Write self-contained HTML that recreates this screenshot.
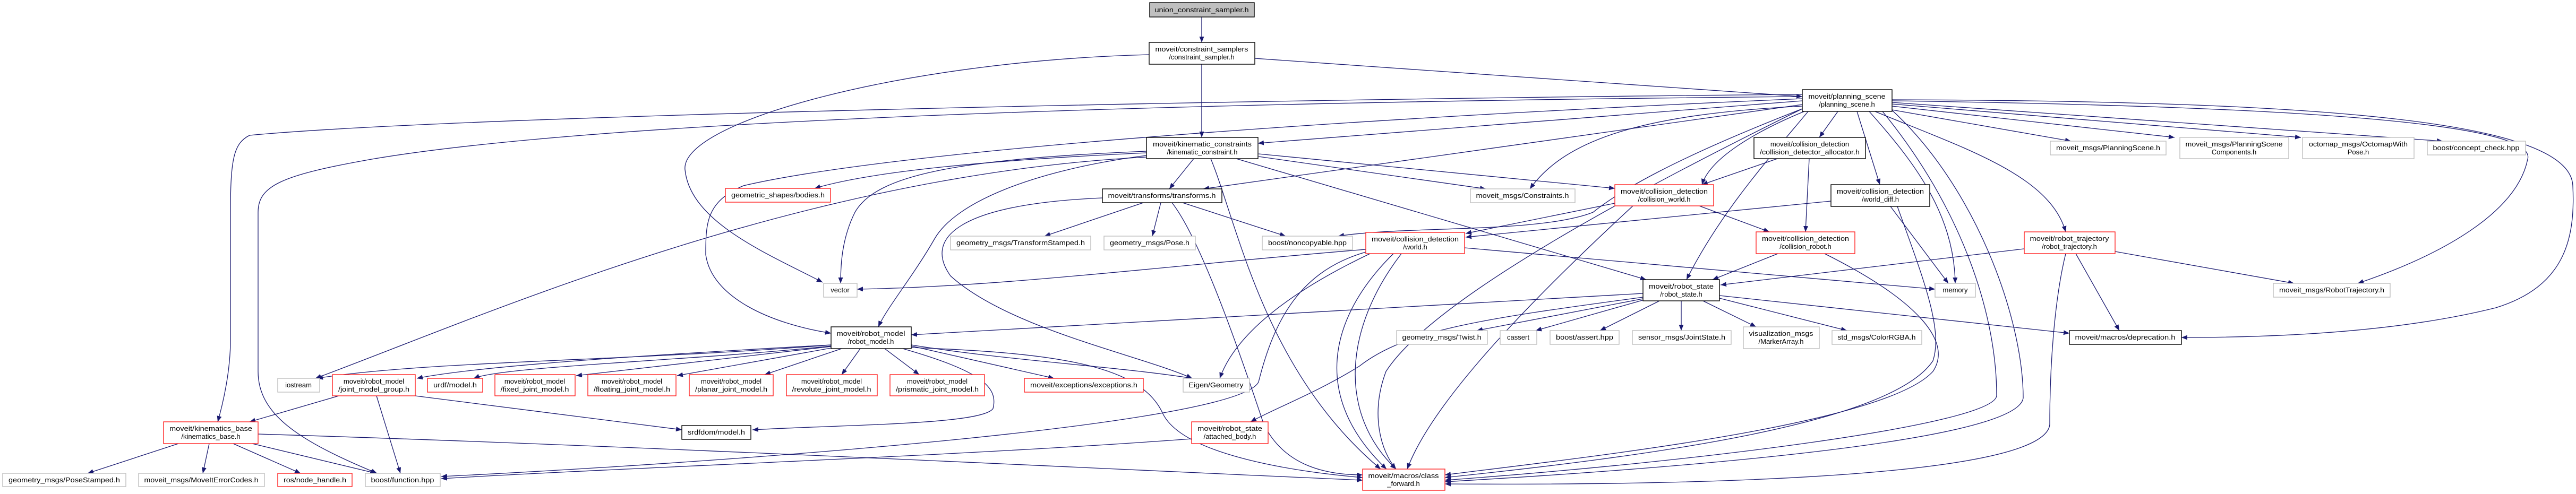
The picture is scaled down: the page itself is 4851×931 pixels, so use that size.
<!DOCTYPE html>
<html><head><meta charset="utf-8"><style>
html,body{margin:0;padding:0;background:#fff;}
svg{display:block;}
text{font-family:"Liberation Sans",sans-serif;font-size:13px;fill:#000;text-anchor:middle;}
.g{fill:#fff;stroke:#bfbfbf;stroke-width:1.4}
.r{fill:#fff;stroke:#f22;stroke-width:1.4}
.b{fill:#fff;stroke:#000;stroke-width:1.4}
.e path{fill:none;stroke:#191970;stroke-width:1.3;marker-end:url(#a)}
</style></head><body>
<svg width="4851" height="931" viewBox="0 0 4851 931" xmlns="http://www.w3.org/2000/svg">
<defs><marker id="a" markerUnits="userSpaceOnUse" markerWidth="12" markerHeight="9" refX="11" refY="4.5" orient="auto"><path d="M0,0 L11,4.5 L0,9 z" fill="#191970"/></marker></defs>
<g class="e">
<path d="M2263 32 L2263 80"/>
<path d="M2263 121 L2263 259"/>
<path d="M2363 110 L3394 182"/>
<path d="M2164 103 C1700 115 1280 230 1290 320 C1300 420 1450 480 1549 532"/>
<path d="M2159 285 C1800 300 1650 330 1610 400 C1585 450 1583 500 1583 534"/>
<path d="M2248 299 L2202 356"/>
<path d="M2370 295 L2798 356"/>
<path d="M2370 290 L3041 355"/>
<path d="M2328 299 L3100 527"/>
<path d="M2280 299 C2330 420 2380 700 2600 884"/>
<path d="M2076 373 C1800 385 1740 450 1790 520 C1900 620 2150 670 2245 713"/>
<path d="M2159 293 C1950 320 1800 380 1760 450 C1720 520 1670 580 1654 616"/>
<path d="M2159 296 C1500 330 900 600 594 713"/>
<path d="M2159 288 C1900 300 1650 320 1534 355"/>
<path d="M3394 190 L2369 270"/>
<path d="M3394 197 L2266 356"/>
<path d="M3394 200 C3100 215 2950 260 2881 356"/>
<path d="M3400 209 C3300 250 3220 300 3205 348"/>
<path d="M3461 210 L3426 259"/>
<path d="M3497 210 L3540 348"/>
<path d="M3405 210 C3330 300 3240 400 3176 527"/>
<path d="M3531 210 C3700 280 3860 330 3890 437"/>
<path d="M3563 207 L3900 266"/>
<path d="M3563 200 L4095 259"/>
<path d="M3563 196 L4333 259"/>
<path d="M3563 193 L4600 266"/>
<path d="M3563 190 C4300 200 4780 230 4760 300 C4740 400 4600 480 4440 534"/>
<path d="M3563 188 C4400 190 4840 230 4845 350 C4850 450 4830 540 4700 580 C4500 630 4250 636 4108 636"/>
<path d="M3520 210 C3600 300 3680 400 3682 534"/>
<path d="M3560 389 L3669 534"/>
<path d="M3436 478 C3600 560 3680 640 3640 700 C3550 800 3000 860 2721 895"/>
<path d="M3573 389 C3620 520 3660 620 3640 680 C3560 800 3100 860 2721 900"/>
<path d="M3545 210 C3700 400 3760 600 3760 745 C3760 800 3200 870 2721 905"/>
<path d="M3560 205 C3720 350 3810 600 3810 750 C3800 830 3200 880 2721 908"/>
<path d="M3890 478 C3870 560 3860 680 3860 800 C3850 900 3200 915 2721 912"/>
<path d="M3394 178 C2500 185 900 215 470 255 C440 270 434 300 434 400 L434 640 C434 700 420 760 410 795"/>
<path d="M3394 182 C2500 190 1200 215 700 300 C530 330 486 350 486 400 L486 700 C486 780 560 830 710 892"/>
<path d="M3394 186 C2600 220 1700 280 1400 350 C1330 380 1329 420 1329 480 C1340 560 1450 610 1565 628"/>
<path d="M1565 650 C1200 680 800 680 597 713"/>
<path d="M1565 650 C1200 670 900 690 785 713"/>
<path d="M1565 652 C1300 680 950 690 892 713"/>
<path d="M1565 653 L1085 708"/>
<path d="M1570 655 L1275 708"/>
<path d="M1585 657 L1440 706"/>
<path d="M1620 657 L1585 706"/>
<path d="M1666 657 L1731 706"/>
<path d="M1716 652 L1985 713"/>
<path d="M1716 650 C1900 680 2100 690 2245 713"/>
<path d="M1716 655 C2000 665 2150 690 2190 780 C2230 860 2450 890 2566 900"/>
<path d="M1700 657 C1850 700 1880 730 1870 770 C1850 800 1600 800 1417 810"/>
<path d="M782 746 L1284 810"/>
<path d="M638 746 L470 795"/>
<path d="M709 746 L754 892"/>
<path d="M336 836 L165 892"/>
<path d="M394 836 L382 892"/>
<path d="M439 836 L566 892"/>
<path d="M475 836 L708 892"/>
<path d="M486 818 C1200 840 2000 880 2566 905"/>
<path d="M2244 827 C1800 860 1200 880 831 902"/>
<path d="M2572 475 C2450 510 2400 600 2370 720 C2330 800 1400 870 831 898"/>
<path d="M2572 470 C2200 500 1900 540 1614 545"/>
<path d="M2580 478 C2450 540 2330 620 2297 713"/>
<path d="M2624 478 C2500 600 2470 750 2611 884"/>
<path d="M2639 478 C2530 620 2520 780 2629 884"/>
<path d="M2758 467 L3644 545"/>
<path d="M3041 383 L2760 440"/>
<path d="M3200 388 L3332 437"/>
<path d="M3075 388 C2900 550 2700 750 2650 884"/>
<path d="M3394 205 C3150 300 3050 360 3000 400 C2900 440 2650 425 2520 445"/>
<path d="M3347 299 L3205 348"/>
<path d="M3407 299 L3400 437"/>
<path d="M3448 379 L2760 447"/>
<path d="M3348 478 L3225 527"/>
<path d="M3811 469 L3240 537"/>
<path d="M3909 478 L3991 623"/>
<path d="M3983 474 L4320 534"/>
<path d="M3094 553 L1716 631"/>
<path d="M3238 557 L3897 628"/>
<path d="M3094 563 L2781 623"/>
<path d="M3096 565 L2892 623"/>
<path d="M3125 567 L3013 623"/>
<path d="M3166 567 L3166 623"/>
<path d="M3207 567 L3307 616"/>
<path d="M3238 562 L3478 623"/>
<path d="M3094 560 C2800 600 2650 620 2560 690 C2480 740 2400 770 2355 795"/>
<path d="M3394 205 C3100 350 2700 560 2610 700 C2580 780 2600 850 2629 884"/>
<path d="M2153 382 L1967 445"/>
<path d="M2186 382 L2170 445"/>
<path d="M2227 382 L2421 445"/>
<path d="M2207 382 C2260 450 2330 650 2380 800 C2420 880 2500 895 2566 895"/>
</g>

<rect x="2165" y="5" width="197" height="27" fill="#bfbfbf" stroke="#000" stroke-width="1.4"/><text x="2263" y="23" textLength="177" lengthAdjust="spacingAndGlyphs">union_constraint_sampler.h</text>
<rect class="b" x="2164" y="80" width="199" height="41"/><text x="2263" y="97" textLength="175" lengthAdjust="spacingAndGlyphs">moveit/constraint_samplers</text><text x="2263" y="112">/constraint_sampler.h</text>
<rect class="b" x="2159" y="259" width="210" height="40"/><text x="2264" y="276" textLength="186" lengthAdjust="spacingAndGlyphs">moveit/kinematic_constraints</text><text x="2264" y="291">/kinematic_constraint.h</text>
<rect class="b" x="3394" y="169" width="169" height="41"/><text x="3478" y="186" textLength="145" lengthAdjust="spacingAndGlyphs">moveit/planning_scene</text><text x="3478" y="201">/planning_scene.h</text>
<rect class="b" x="2076" y="356" width="225" height="26"/><text x="2188" y="373" textLength="203" lengthAdjust="spacingAndGlyphs">moveit/transforms/transforms.h</text>
<rect class="g" x="2769" y="356" width="197" height="26"/><text x="2867" y="373" textLength="175" lengthAdjust="spacingAndGlyphs">moveit_msgs/Constraints.h</text>
<rect class="r" x="3041" y="348" width="186" height="40"/><text x="3134" y="365" textLength="164" lengthAdjust="spacingAndGlyphs">moveit/collision_detection</text><text x="3134" y="380">/collision_world.h</text>
<rect class="b" x="3303" y="259" width="210" height="40"/><text x="3408" y="276">moveit/collision_detection</text><text x="3408" y="291" textLength="188" lengthAdjust="spacingAndGlyphs">/collision_detector_allocator.h</text>
<rect class="b" x="3448" y="348" width="186" height="41"/><text x="3541" y="365" textLength="164" lengthAdjust="spacingAndGlyphs">moveit/collision_detection</text><text x="3541" y="380">/world_diff.h</text>
<rect class="r" x="1366" y="355" width="198" height="26"/><text x="1465" y="372" textLength="176" lengthAdjust="spacingAndGlyphs">geometric_shapes/bodies.h</text>
<rect class="g" x="1790" y="445" width="264" height="26"/><text x="1922" y="462" textLength="242" lengthAdjust="spacingAndGlyphs">geometry_msgs/TransformStamped.h</text>
<rect class="g" x="2079" y="445" width="172" height="26"/><text x="2165" y="462" textLength="150" lengthAdjust="spacingAndGlyphs">geometry_msgs/Pose.h</text>
<rect class="g" x="2377" y="445" width="170" height="26"/><text x="2462" y="462" textLength="148" lengthAdjust="spacingAndGlyphs">boost/noncopyable.hpp</text>
<rect class="r" x="2572" y="438" width="186" height="40"/><text x="2665" y="455" textLength="164" lengthAdjust="spacingAndGlyphs">moveit/collision_detection</text><text x="2665" y="470">/world.h</text>
<rect class="r" x="3307" y="437" width="186" height="41"/><text x="3400" y="454" textLength="164" lengthAdjust="spacingAndGlyphs">moveit/collision_detection</text><text x="3400" y="469">/collision_robot.h</text>
<rect class="r" x="3812" y="437" width="171" height="41"/><text x="3897" y="454" textLength="149" lengthAdjust="spacingAndGlyphs">moveit/robot_trajectory</text><text x="3897" y="469">/robot_trajectory.h</text>
<rect class="g" x="3861" y="266" width="218" height="26"/><text x="3970" y="283" textLength="196" lengthAdjust="spacingAndGlyphs">moveit_msgs/PlanningScene.h</text>
<rect class="g" x="4105" y="259" width="205" height="40"/><text x="4207" y="276" textLength="183" lengthAdjust="spacingAndGlyphs">moveit_msgs/PlanningScene</text><text x="4207" y="291">Components.h</text>
<rect class="g" x="4336" y="259" width="210" height="40"/><text x="4441" y="276" textLength="186" lengthAdjust="spacingAndGlyphs">octomap_msgs/OctomapWith</text><text x="4441" y="291">Pose.h</text>
<rect class="g" x="4571" y="266" width="185" height="26"/><text x="4663" y="283" textLength="163" lengthAdjust="spacingAndGlyphs">boost/concept_check.hpp</text>
<rect class="g" x="1551" y="534" width="63" height="26"/><text x="1582" y="551">vector</text>
<rect class="b" x="1565" y="616" width="151" height="41"/><text x="1640" y="633" textLength="129" lengthAdjust="spacingAndGlyphs">moveit/robot_model</text><text x="1640" y="648">/robot_model.h</text>
<rect class="b" x="3094" y="527" width="144" height="40"/><text x="3166" y="544" textLength="122" lengthAdjust="spacingAndGlyphs">moveit/robot_state</text><text x="3166" y="559">/robot_state.h</text>
<rect class="g" x="3644" y="534" width="76" height="26"/><text x="3682" y="551">memory</text>
<rect class="g" x="4281" y="534" width="220" height="26"/><text x="4391" y="551" textLength="198" lengthAdjust="spacingAndGlyphs">moveit_msgs/RobotTrajectory.h</text>
<rect class="g" x="523" y="713" width="79" height="26"/><text x="562" y="730">iostream</text>
<rect class="r" x="626" y="706" width="156" height="40"/><text x="704" y="723">moveit/robot_model</text><text x="704" y="738" textLength="134" lengthAdjust="spacingAndGlyphs">/joint_model_group.h</text>
<rect class="r" x="805" y="713" width="104" height="26"/><text x="857" y="730" textLength="82" lengthAdjust="spacingAndGlyphs">urdf/model.h</text>
<rect class="r" x="932" y="706" width="151" height="40"/><text x="1007" y="723">moveit/robot_model</text><text x="1007" y="738" textLength="129" lengthAdjust="spacingAndGlyphs">/fixed_joint_model.h</text>
<rect class="r" x="1107" y="706" width="166" height="40"/><text x="1190" y="723">moveit/robot_model</text><text x="1190" y="738" textLength="144" lengthAdjust="spacingAndGlyphs">/floating_joint_model.h</text>
<rect class="r" x="1298" y="706" width="158" height="40"/><text x="1377" y="723">moveit/robot_model</text><text x="1377" y="738" textLength="136" lengthAdjust="spacingAndGlyphs">/planar_joint_model.h</text>
<rect class="r" x="1481" y="706" width="171" height="40"/><text x="1566" y="723">moveit/robot_model</text><text x="1566" y="738" textLength="149" lengthAdjust="spacingAndGlyphs">/revolute_joint_model.h</text>
<rect class="r" x="1676" y="706" width="178" height="40"/><text x="1765" y="723">moveit/robot_model</text><text x="1765" y="738" textLength="156" lengthAdjust="spacingAndGlyphs">/prismatic_joint_model.h</text>
<rect class="r" x="1929" y="713" width="224" height="26"/><text x="2041" y="730" textLength="202" lengthAdjust="spacingAndGlyphs">moveit/exceptions/exceptions.h</text>
<rect class="g" x="2228" y="713" width="125" height="26"/><text x="2290" y="730" textLength="103" lengthAdjust="spacingAndGlyphs">Eigen/Geometry</text>
<rect class="g" x="2630" y="623" width="171" height="26"/><text x="2715" y="640" textLength="149" lengthAdjust="spacingAndGlyphs">geometry_msgs/Twist.h</text>
<rect class="g" x="2825" y="623" width="69" height="26"/><text x="2859" y="640">cassert</text>
<rect class="g" x="2919" y="623" width="130" height="26"/><text x="2984" y="640" textLength="108" lengthAdjust="spacingAndGlyphs">boost/assert.hpp</text>
<rect class="g" x="3074" y="623" width="186" height="26"/><text x="3167" y="640" textLength="164" lengthAdjust="spacingAndGlyphs">sensor_msgs/JointState.h</text>
<rect class="g" x="3283" y="616" width="143" height="41"/><text x="3354" y="633" textLength="121" lengthAdjust="spacingAndGlyphs">visualization_msgs</text><text x="3354" y="648">/MarkerArray.h</text>
<rect class="g" x="3450" y="623" width="169" height="26"/><text x="3534" y="640" textLength="147" lengthAdjust="spacingAndGlyphs">std_msgs/ColorRGBA.h</text>
<rect class="b" x="3897" y="623" width="211" height="26"/><text x="4002" y="640" textLength="189" lengthAdjust="spacingAndGlyphs">moveit/macros/deprecation.h</text>
<rect class="r" x="308" y="795" width="178" height="41"/><text x="397" y="812" textLength="156" lengthAdjust="spacingAndGlyphs">moveit/kinematics_base</text><text x="397" y="827">/kinematics_base.h</text>
<rect class="b" x="1284" y="802" width="130" height="26"/><text x="1349" y="819" textLength="108" lengthAdjust="spacingAndGlyphs">srdfdom/model.h</text>
<rect class="r" x="2244" y="795" width="144" height="41"/><text x="2316" y="812" textLength="122" lengthAdjust="spacingAndGlyphs">moveit/robot_state</text><text x="2316" y="827">/attached_body.h</text>
<rect class="g" x="5" y="892" width="232" height="25"/><text x="121" y="909" textLength="210" lengthAdjust="spacingAndGlyphs">geometry_msgs/PoseStamped.h</text>
<rect class="g" x="261" y="892" width="237" height="25"/><text x="379" y="909" textLength="215" lengthAdjust="spacingAndGlyphs">moveit_msgs/MoveItErrorCodes.h</text>
<rect class="r" x="523" y="892" width="140" height="25"/><text x="593" y="909" textLength="118" lengthAdjust="spacingAndGlyphs">ros/node_handle.h</text>
<rect class="g" x="688" y="892" width="141" height="25"/><text x="758" y="909" textLength="119" lengthAdjust="spacingAndGlyphs">boost/function.hpp</text>
<rect class="r" x="2566" y="884" width="155" height="40"/><text x="2643" y="901" textLength="133" lengthAdjust="spacingAndGlyphs">moveit/macros/class</text><text x="2643" y="916">_forward.h</text>
</svg>
</body></html>
